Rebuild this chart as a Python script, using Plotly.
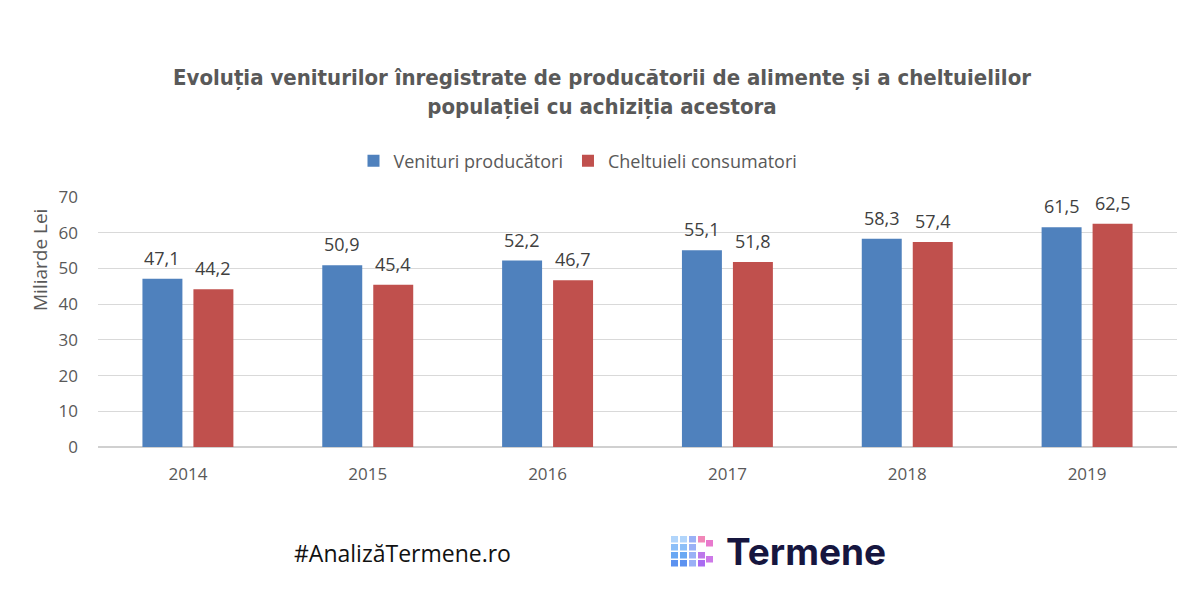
import plotly.graph_objects as go

years = ["2014", "2015", "2016", "2017", "2018", "2019"]
venituri = [47.1, 50.9, 52.2, 55.1, 58.3, 61.5]
cheltuieli = [44.2, 45.4, 46.7, 51.8, 57.4, 62.5]
series_names = ["Venituri producători", "Cheltuieli consumatori"]
colors = ["#4f81bd", "#c0504d"]
y_ticks = [0, 10, 20, 30, 40, 50, 60, 70]

FONT = "Open Sans"
OFF = 8  # page body margin
W, H = 1200, 607
# screen-pixel plot area
SL, SR, ST, SB = 98, 1177, 197, 447
ml, mt = SL - OFF, ST - OFF
mr = W - (SR - OFF)
mb = H - (SB - OFF)
pw, ph = W - ml - mr, H - mt - mb


def paper(x, y):
    """screen pixel -> paper coords"""
    return (x - OFF - ml) / pw, (H - mb - (y - OFF)) / ph


def cont_y(y):
    return 1 - (y - OFF) / H


def cont_x(x):
    return (x - OFF) / W


fig = go.Figure()
for name, vals, col in zip(series_names, [venituri, cheltuieli], colors):
    fig.add_trace(go.Bar(
        x=years, y=vals, name=name,
        marker=dict(color=col, line=dict(width=0)),
    ))

annotations = []
for i, vals in enumerate([venituri, cheltuieli]):
    shift = -25.5 if i == 0 else 25.5
    for k, v in enumerate(vals):
        annotations.append(dict(
            x=k, y=v, xref="x", yref="y",
            text=f"{v:.1f}".replace(".", ","),
            showarrow=False, xshift=shift, yanchor="bottom", yshift=7,
            font=dict(family=FONT, size=18, color="#404040"),
        ))

ax, ay = paper(40, 260)
annotations.append(dict(
    text="Miliarde Lei", x=ax, y=ay, xref="paper", yref="paper",
    xanchor="center", yanchor="middle",
    showarrow=False, textangle=-90,
    font=dict(family=FONT, size=19, color="#595959"),
))

fx, fy = paper(292, 553)
annotations.append(dict(
    text="#AnalizăTermene.ro", xref="paper", yref="paper",
    x=fx, y=fy, xanchor="left", yanchor="middle",
    showarrow=False, font=dict(family="Open Sans", size=23, color="#111111"),
))
tx, ty = paper(724, 551)
annotations.append(dict(
    text="<b>Termene</b>", xref="paper", yref="paper",
    x=tx, y=ty, xanchor="left", yanchor="middle",
    showarrow=False, font=dict(family="Inter", size=37, color="#16163f"),
))
fig.update_layout(annotations=annotations)

# logo icon: grid of small squares
icon_cells = []
blue_shades = ["#a8d0fb", "#7fb8f7", "#5a9ef2", "#4a86ee"]
for c in range(3):
    for r in range(4):
        icon_cells.append((671 + c * 9, 536 + r * 8,
                           blue_shades[r] if c < 2 else "#8fa8f5"))
icon_cells += [(698, 536, "#f07ab0"), (706, 540, "#e66ac8"), (698, 552, "#b66ae8"),
               (698, 560, "#a05cf0"), (706, 556, "#c86ae6")]
for x0, y0, col in icon_cells:
    xa, ya = paper(x0, y0)
    xb, yb = paper(x0 + 7, y0 + 6.5)
    fig.add_shape(type="rect", xref="paper", yref="paper",
                  x0=xa, x1=xb, y0=yb, y1=ya,
                  fillcolor=col, line=dict(width=0), opacity=0.9)

fig.update_layout(
    width=W, height=H,
    margin=dict(l=ml, r=mr, t=mt, b=mb, autoexpand=False),
    paper_bgcolor="white", plot_bgcolor="white",
    separators=",.",
    barmode="group", bargap=0.433, bargroupgap=0.216,
    title=dict(
        text="<b>Evoluția veniturilor înregistrate de producătorii de alimente și a cheltuielilor<br>populației cu achiziția acestora</b>",
        x=cont_x(602), xref="container", xanchor="center",
        y=cont_y(85), yref="container", yanchor="top",
        font=dict(family="DejaVu Sans Condensed, Open Sans", size=22, color="#595959"),
    ),
    legend=dict(
        orientation="h", xref="container", yref="container",
        x=cont_x(578), xanchor="center", y=cont_y(161), yanchor="middle",
        font=dict(family=FONT, size=18, color="#595959"),
        itemwidth=30, traceorder="normal",
    ),
    xaxis=dict(
        type="category", range=[-0.5, len(years) - 0.5], autorange=False,
        showgrid=False, showline=False, ticks="",
        tickfont=dict(family=FONT, size=17, color="#595959"),
        ticklabelstandoff=15,
    ),
    yaxis=dict(
        range=[0, 70], autorange=False, tickvals=y_ticks,
        showgrid=True, gridcolor="#d9d9d9", gridwidth=1,
        zeroline=True, zerolinecolor="#d0d0d0", zerolinewidth=1.5,
        showline=False, ticks="",
        tickfont=dict(family=FONT, size=17, color="#595959"),
        ticklabelstandoff=19,
    ),
    showlegend=True,
)

fig.write_html("out.html")
